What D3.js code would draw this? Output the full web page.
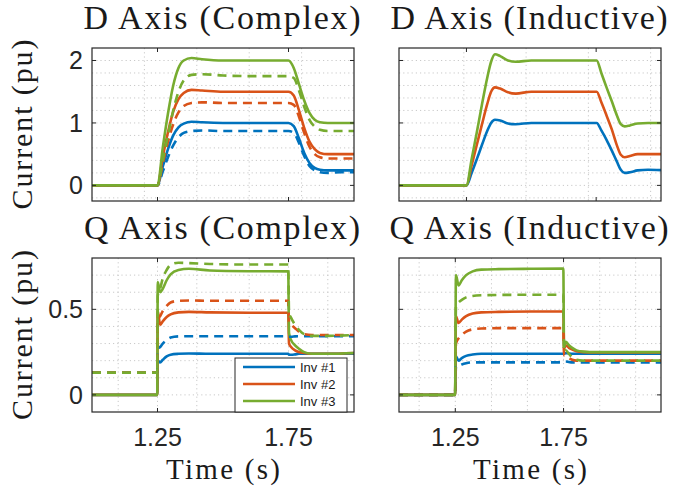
<!DOCTYPE html>
<html>
<head>
<meta charset="utf-8">
<script src="https://cdn.jsdelivr.net/npm/d3@7"></script>
<style>
  body { margin: 0; background: #fff; }
  .grid { stroke: #c9c9c9; stroke-width: 1; stroke-dasharray: 1.2,3; }
  .box { fill: none; stroke: #262626; stroke-width: 1.2; }
  .tick { stroke: #262626; stroke-width: 1; }
  .ticklab { font-family: "Liberation Sans", Arial, sans-serif; font-size: 25px; fill: #262626; }
  .serif { font-family: "Liberation Serif", "Times New Roman", serif; fill: #1a1a1a; }
</style>
</head>
<body>
<div class="d3Area"></div>
<script>
// ---- data ----
const invNames = ["Inv #1", "Inv #2", "Inv #3"];
const invColors = ["#0072BD", "#D95319", "#77AC30"];

// D axis, complex
const tDc = [1.0, 1.25, 1.27, 1.29, 1.31, 1.33, 1.35, 1.38, 1.42, 1.5, 1.6, 1.75, 1.77, 1.79, 1.81, 1.83, 1.85, 1.87, 1.9, 1.95, 2.0];
const dcSolid1 = [0, 0, 0.3, 0.58, 0.8, 0.93, 0.99, 1.02, 1.01, 1.0, 1.0, 1.0, 0.95, 0.75, 0.52, 0.36, 0.28, 0.25, 0.24, 0.24, 0.24];
const dcSolid2 = [0, 0, 0.45, 0.85, 1.18, 1.38, 1.48, 1.53, 1.52, 1.5, 1.5, 1.5, 1.44, 1.2, 0.92, 0.7, 0.58, 0.52, 0.5, 0.5, 0.5];
const dcSolid3 = [0, 0, 0.6, 1.15, 1.6, 1.88, 2.0, 2.04, 2.02, 2.0, 2.0, 2.0, 1.88, 1.62, 1.36, 1.16, 1.05, 1.01, 1.0, 1.0, 1.0];
const dcDash1 = [0, 0, 0.22, 0.45, 0.64, 0.77, 0.84, 0.87, 0.88, 0.87, 0.87, 0.87, 0.84, 0.68, 0.47, 0.31, 0.24, 0.21, 0.2, 0.21, 0.21];
const dcDash2 = [0, 0, 0.35, 0.7, 0.98, 1.17, 1.27, 1.32, 1.33, 1.32, 1.32, 1.32, 1.29, 1.1, 0.84, 0.62, 0.5, 0.45, 0.43, 0.43, 0.43];
const dcDash3 = [0, 0, 0.4, 0.8, 1.2, 1.5, 1.68, 1.77, 1.78, 1.76, 1.75, 1.75, 1.72, 1.52, 1.26, 1.05, 0.94, 0.89, 0.87, 0.87, 0.87];

// D axis, inductive
const tDi = [0.99, 1.25, 1.27, 1.29, 1.31, 1.33, 1.345, 1.36, 1.38, 1.41, 1.44, 1.5, 1.6, 1.752, 1.77, 1.79, 1.81, 1.83, 1.845, 1.86, 1.88, 1.91, 1.95, 2.0];
const diSolid1 = [0, 0, 0.2, 0.42, 0.65, 0.87, 1.0, 1.05, 1.04, 0.99, 0.98, 1.0, 1.0, 1.0, 0.88, 0.73, 0.56, 0.38, 0.25, 0.2, 0.21, 0.24, 0.25, 0.245];
const diSolid2 = [0, 0, 0.32, 0.65, 0.98, 1.3, 1.5, 1.57, 1.55, 1.49, 1.47, 1.5, 1.5, 1.5, 1.33, 1.12, 0.9, 0.64, 0.49, 0.45, 0.47, 0.5, 0.5, 0.5];
const diSolid3 = [0, 0, 0.42, 0.85, 1.3, 1.72, 1.98, 2.1, 2.07, 2.0, 1.98, 2.0, 2.0, 2.0, 1.8, 1.57, 1.35, 1.12, 0.98, 0.945, 0.96, 0.99, 1.0, 1.0];

// Q axis, complex
const tQc = [1.0, 1.249, 1.251, 1.26, 1.27, 1.285, 1.3, 1.33, 1.37, 1.45, 1.6, 1.749, 1.752, 1.76, 1.775, 1.79, 1.81, 1.84, 1.9, 2.0];
const qcSolid1 = [0, 0, 0.2, 0.19, 0.205, 0.225, 0.235, 0.24, 0.242, 0.24, 0.24, 0.24, 0.235, 0.235, 0.237, 0.24, 0.24, 0.24, 0.24, 0.24];
const qcSolid2 = [0, 0, 0.49, 0.41, 0.43, 0.455, 0.47, 0.482, 0.485, 0.482, 0.48, 0.48, 0.3, 0.28, 0.26, 0.25, 0.245, 0.24, 0.24, 0.245];
const qcSolid3 = [0, 0, 0.66, 0.6, 0.62, 0.67, 0.705, 0.73, 0.737, 0.727, 0.723, 0.722, 0.36, 0.32, 0.29, 0.27, 0.25, 0.24, 0.24, 0.245];
const qcDash1 = [0.13, 0.13, 0.27, 0.28, 0.3, 0.32, 0.335, 0.342, 0.343, 0.343, 0.343, 0.343, 0.34, 0.34, 0.342, 0.343, 0.343, 0.343, 0.343, 0.343];
const qcDash2 = [0.13, 0.13, 0.45, 0.46, 0.49, 0.52, 0.54, 0.55, 0.552, 0.55, 0.55, 0.55, 0.42, 0.41, 0.39, 0.37, 0.355, 0.35, 0.35, 0.35];
const qcDash3 = [0.13, 0.13, 0.58, 0.62, 0.68, 0.73, 0.76, 0.772, 0.77, 0.765, 0.762, 0.762, 0.48, 0.45, 0.41, 0.38, 0.355, 0.345, 0.345, 0.35];

// Q axis, inductive
const tQi = [0.99, 1.249, 1.253, 1.265, 1.28, 1.3, 1.33, 1.37, 1.45, 1.6, 1.749, 1.752, 1.76, 1.775, 1.79, 1.81, 1.84, 1.9, 2.0, 2.2];
const qiSolid1 = [0, 0, 0.225, 0.2, 0.215, 0.228, 0.236, 0.24, 0.24, 0.24, 0.24, 0.24, 0.245, 0.242, 0.24, 0.24, 0.24, 0.24, 0.24, 0.24];
const qiSolid2 = [0, 0, 0.46, 0.42, 0.44, 0.46, 0.475, 0.482, 0.485, 0.487, 0.487, 0.27, 0.29, 0.275, 0.265, 0.255, 0.25, 0.248, 0.248, 0.248];
const qiSolid3 = [0, 0, 0.7, 0.64, 0.67, 0.7, 0.722, 0.732, 0.735, 0.737, 0.738, 0.28, 0.31, 0.29, 0.275, 0.26, 0.253, 0.25, 0.25, 0.25];
const qiDash1 = [0, 0, 0.165, 0.17, 0.178, 0.185, 0.19, 0.19, 0.19, 0.19, 0.19, 0.19, 0.195, 0.192, 0.19, 0.19, 0.19, 0.19, 0.19, 0.19];
const qiDash2 = [0, 0, 0.3, 0.33, 0.35, 0.37, 0.383, 0.388, 0.39, 0.39, 0.39, 0.23, 0.23, 0.215, 0.205, 0.2, 0.2, 0.2, 0.2, 0.2];
const qiDash3 = [0, 0, 0.52, 0.54, 0.555, 0.57, 0.578, 0.582, 0.584, 0.585, 0.585, 0.25, 0.26, 0.24, 0.22, 0.205, 0.2, 0.2, 0.2, 0.2];

// ticks and grid
const xTicks = [1.25, 1.75];
const yTicksD = [0, 1, 2];
const yTicksQ = [0, 0.5];
const gridYD = [-0.2, 0, 0.2, 0.4, 0.6, 0.8, 1.0, 1.2, 1.4, 1.6, 1.8, 2.0];
const gridYQ = [0, 0.1, 0.2, 0.3, 0.4, 0.5, 0.6, 0.7];
const gridXDc = [1.2, 1.4, 1.6, 1.8];
const gridXDi = [1.24, 1.48, 1.72, 1.96];
const gridXQc = [1.1, 1.25, 1.4, 1.6, 1.75, 1.9];
const gridXQi = [1.083, 1.25, 1.417, 1.583, 1.75, 1.917, 2.083];

// ---- layout ----
const W = 673, H = 489;
const svg = d3.select(".d3Area").append("svg").attr("width", W).attr("height", H);

const panels = [
  { title: "D Axis (Complex)", tw: 277, x0: 92, x1: 354, y0: 48, y1: 201, xDom: [1, 2], yDom: [-0.25, 2.2],
    t: tDc, solid: [dcSolid1, dcSolid2, dcSolid3], dashed: [dcDash1, dcDash2, dcDash3],
    gx: gridXDc, gy: gridYD, yt: yTicksD, left: true, bottom: false },
  { title: "D Axis (Inductive)", tw: 277, x0: 399, x1: 661, y0: 48, y1: 201, xDom: [0.99, 2], yDom: [-0.25, 2.2],
    t: tDi, solid: [diSolid1, diSolid2, diSolid3], dashed: [],
    gx: gridXDi, gy: gridYD, yt: yTicksD, left: false, bottom: false },
  { title: "Q Axis (Complex)", tw: 276, x0: 92, x1: 354, y0: 258, y1: 412, xDom: [1, 2], yDom: [-0.1, 0.8],
    t: tQc, solid: [qcSolid1, qcSolid2, qcSolid3], dashed: [qcDash1, qcDash2, qcDash3],
    gx: gridXQc, gy: gridYQ, yt: yTicksQ, left: true, bottom: true, legend: true },
  { title: "Q Axis (Inductive)", tw: 279, x0: 399, x1: 661, y0: 258, y1: 412, xDom: [0.99, 2.2], yDom: [-0.1, 0.8],
    t: tQi, solid: [qiSolid1, qiSolid2, qiSolid3], dashed: [qiDash1, qiDash2, qiDash3],
    gx: gridXQi, gy: gridYQ, yt: yTicksQ, left: false, bottom: true }
];

const fmt = (v) => (v === 0 ? "0" : String(v));

panels.forEach((p, k) => {
  const x = d3.scaleLinear().domain(p.xDom).range([p.x0, p.x1]);
  const y = d3.scaleLinear().domain(p.yDom).range([p.y1, p.y0]);
  const g = svg.append("g");

  g.append("clipPath").attr("id", "clip" + k)
    .append("rect").attr("x", p.x0).attr("y", p.y0)
    .attr("width", p.x1 - p.x0).attr("height", p.y1 - p.y0);

  // grid
  g.selectAll(".gx").data(p.gx).enter().append("line").attr("class", "grid")
    .attr("x1", d => x(d)).attr("x2", d => x(d)).attr("y1", p.y0).attr("y2", p.y1);
  g.selectAll(".gy").data(p.gy).enter().append("line").attr("class", "grid")
    .attr("y1", d => y(d)).attr("y2", d => y(d)).attr("x1", p.x0).attr("x2", p.x1);

  const line = d3.line()
    .x((d, i) => x(p.t[i]))
    .y(d => y(d))
    .curve(d3.curveMonotoneX);

  const lines = g.append("g").attr("clip-path", "url(#clip" + k + ")");
  p.solid.forEach((s, i) => {
    lines.append("path").attr("d", line(s)).attr("fill", "none")
      .attr("stroke", invColors[i]).attr("stroke-width", 2.6)
      .attr("stroke-linejoin", "round");
  });
  p.dashed.forEach((s, i) => {
    lines.append("path").attr("d", line(s)).attr("fill", "none")
      .attr("stroke", invColors[i]).attr("stroke-width", 2.6)
      .attr("stroke-dasharray", "9,6");
  });

  // box + ticks (inward on all sides)
  g.append("rect").attr("class", "box").attr("x", p.x0).attr("y", p.y0)
    .attr("width", p.x1 - p.x0).attr("height", p.y1 - p.y0);
  const tl = 4;
  xTicks.forEach(v => {
    g.append("line").attr("class", "tick").attr("x1", x(v)).attr("x2", x(v)).attr("y1", p.y1).attr("y2", p.y1 - tl);
    g.append("line").attr("class", "tick").attr("x1", x(v)).attr("x2", x(v)).attr("y1", p.y0).attr("y2", p.y0 + tl);
  });
  p.yt.forEach(v => {
    g.append("line").attr("class", "tick").attr("y1", y(v)).attr("y2", y(v)).attr("x1", p.x0).attr("x2", p.x0 + tl);
    g.append("line").attr("class", "tick").attr("y1", y(v)).attr("y2", y(v)).attr("x1", p.x1).attr("x2", p.x1 - tl);
  });

  if (p.left) {
    g.selectAll(".yl").data(p.yt).enter().append("text").attr("class", "ticklab")
      .attr("x", p.x0 - 9).attr("y", d => y(d)).attr("dy", "0.36em")
      .attr("text-anchor", "end").text(fmt);
    const cy = (p.y0 + p.y1) / 2;
    g.append("text").attr("class", "serif").attr("font-size", 30)
      .attr("text-anchor", "middle")
      .attr("transform", "translate(32," + cy + ") rotate(-90)")
      .attr("textLength", 170).attr("lengthAdjust", "spacing")
      .text("Current (pu)");
  }
  if (p.bottom) {
    g.selectAll(".xl").data(xTicks).enter().append("text").attr("class", "ticklab")
      .attr("x", d => x(d)).attr("y", 446).attr("text-anchor", "middle").text(d => d.toFixed(2));
    g.append("text").attr("class", "serif").attr("font-size", 29)
      .attr("text-anchor", "middle")
      .attr("x", (p.x0 + p.x1) / 2).attr("y", 479)
      .attr("textLength", 114).attr("lengthAdjust", "spacing")
      .text("Time (s)");
  }

  g.append("text").attr("class", "serif").attr("font-size", 34)
    .attr("text-anchor", "middle")
    .attr("x", (p.x0 + p.x1) / 2 - 1).attr("y", p.y0 - 19)
    .attr("textLength", p.tw).attr("lengthAdjust", "spacing")
    .text(p.title);

  if (p.legend) {
    const lg = g.append("g");
    lg.append("rect").attr("x", 235).attr("y", 358).attr("width", 112).attr("height", 54)
      .attr("fill", "#fff").attr("stroke", "#262626").attr("stroke-width", 1);
    const ly = d3.scalePoint().domain(invNames).range([367, 401]);
    invNames.forEach((n, i) => {
      lg.append("line").attr("x1", 243).attr("x2", 295).attr("y1", ly(n)).attr("y2", ly(n))
        .attr("stroke", invColors[i]).attr("stroke-width", 2.6);
      lg.append("text").attr("x", 300).attr("y", ly(n)).attr("dy", "0.35em")
        .attr("font-family", "Liberation Sans, Arial, sans-serif").attr("font-size", 13)
        .attr("fill", "#1a1a1a").text(n);
    });
  }
});
</script>
</body>
</html>
